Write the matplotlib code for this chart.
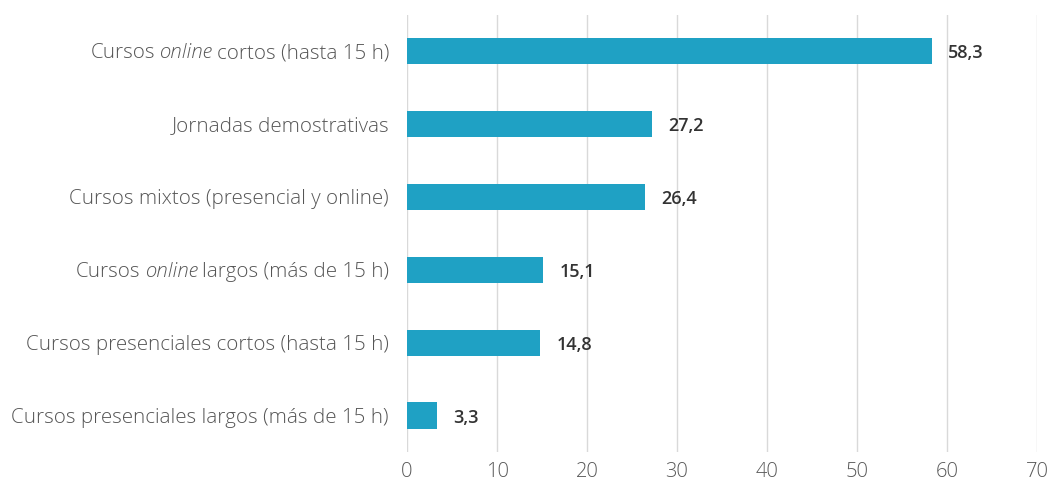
import matplotlib.pyplot as plt

# categories split in (before, italic, after) so "online" can be set in italics
label_parts = [
    ("Cursos ", "online", " cortos (hasta 15 h)"),
    ("", "", "Jornadas demostrativas"),
    ("", "", "Cursos mixtos (presencial y online)"),
    ("Cursos ", "online", " largos (más de 15 h)"),
    ("", "", "Cursos presenciales cortos (hasta 15 h)"),
    ("", "", "Cursos presenciales largos (más de 15 h)"),
]
values = [58.3, 27.2, 26.4, 15.1, 14.8, 3.3]
value_labels = ["58,3", "27,2", "26,4", "15,1", "14,8", "3,3"]
x_ticks = [0, 10, 20, 30, 40, 50, 60, 70]

plt.rcParams['font.family'] = ['Open Sans', 'DejaVu Sans']

fig = plt.figure(figsize=(10.51, 4.8), dpi=100)
ax = fig.add_axes([0.3873, 0.0583, 0.5994, 0.9107])

ypos = list(range(len(values)))
ax.barh(ypos, values, height=0.36, color='#1fa1c4', zorder=3)
ax.set_ylim(len(values) - 0.5, -0.5)
ax.set_xlim(0, 70)
ax.set_xticks(x_ticks)
ax.xaxis.grid(True, color='#d9d9d9', linewidth=1, zorder=0)
ax.set_yticks([])
for s in ax.spines.values():
    s.set_visible(False)
ax.tick_params(axis='x', length=0, pad=7, labelsize=14.5, labelcolor='#595959')
for t in ax.get_xticklabels():
    t.set_fontweight('light')

txt_kw = dict(fontsize=14.8, color='#555555', fontweight='light', va='center')
for i, (pre, ital, post) in enumerate(label_parts):
    t = ax.annotate(post.strip(), xy=(0, i), xycoords=('axes fraction', 'data'),
                    xytext=(-13, -1.5), textcoords='offset points', ha='right', **txt_kw)
    if ital:
        t2 = ax.annotate(ital, xy=(0, 0.5), xycoords=t, xytext=(-3, 0),
                         textcoords='offset points', ha='right', style='italic', **txt_kw)
        ax.annotate(pre.strip(), xy=(0, 0.5), xycoords=t2, xytext=(-3, 0),
                    textcoords='offset points', ha='right', **txt_kw)

for i, (v, lab) in enumerate(zip(values, value_labels)):
    ax.annotate(lab, xy=(v, i), xytext=(12, -1.5), textcoords='offset points',
                ha='left', va='center', fontsize=13, fontweight='semibold', color='#333333')

fig.savefig('out.png', dpi=100)
